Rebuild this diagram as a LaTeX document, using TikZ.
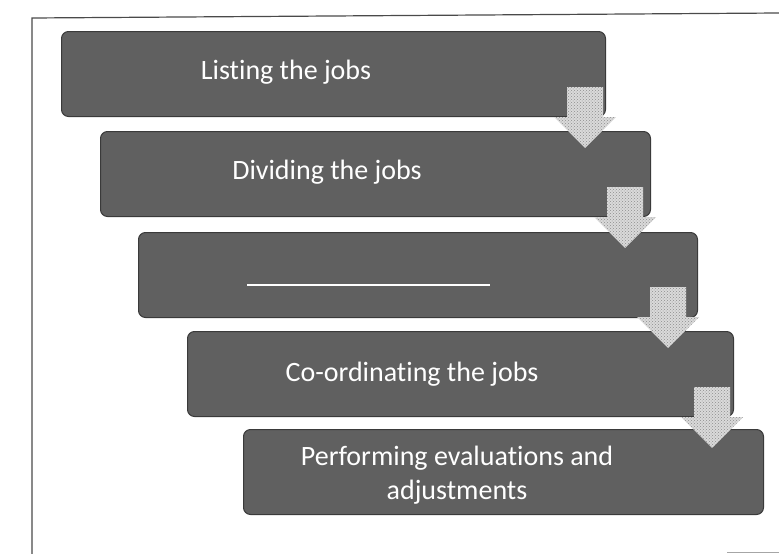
\documentclass[tikz,border=0pt]{standalone}
\usepackage{fontspec}
\setmainfont{Carlito}[Ligatures={NoCommon,NoContextual}]
\usetikzlibrary{patterns}
\definecolor{boxfill}{HTML}{606060}
\definecolor{boxline}{HTML}{3A3A3A}
\definecolor{arrowfill}{HTML}{DADADA}
\definecolor{framecol}{HTML}{4A4A4A}
\tikzset{
  stepbox/.style={draw=boxline, line width=1pt, fill=boxfill, rounded corners=7pt, anchor=north west, inner sep=0pt, minimum height=85pt},
  steptext/.style={text=white, font=\fontsize{28}{34}\selectfont, align=center, inner sep=0pt},
  downarrow/.style={fill=arrowfill, postaction={pattern=crosshatch dots, pattern color=gray!90}},
  framel/.style={draw=framecol, line width=1.2pt}
}
\begin{document}
\begin{tikzpicture}[x=1pt,y=-1pt]
\useasboundingbox (0,0) rectangle (779,554);
\fill[white] (0,0) rectangle (779,554);
% frame
\coordinate (fa) at (32,18);
\coordinate (fb) at (32,554);
\coordinate (fc) at (779,13);
\coordinate (fd) at (727,552);
\coordinate (fe) at (779,552);
\draw[framel] (fb) -- (fa) -- (fc);
\draw[draw=gray!70, line width=0.8pt] (fd) -- (fe);
% boxes
\node[stepbox, minimum width=544pt] (b1) at (61,31) {};
\node[stepbox, minimum width=550pt] (b2) at (100,131) {};
\node[stepbox, minimum width=559pt] (b3) at (138,232) {};
\node[stepbox, minimum width=546pt] (b4) at (187,331) {};
\node[stepbox, minimum width=520pt] (b5) at (243,429) {};
% texts
\node[steptext] (t1) at (286,72) {Listing the jobs};
\node[steptext] (t2) at (327,172) {Dividing the jobs};
\node[inner sep=0pt] (t3) at (368.5,285) {\textcolor{white}{\rule{243pt}{1.5pt}}};
\node[steptext] (t4) at (412,374) {Co-ordinating the jobs};
\node[steptext] (t5) at (457,475) {Performing evaluations and\\adjustments};
% arrows
\coordinate (a1) at (585,87);
\coordinate (a2) at (625,187);
\coordinate (a3) at (668,287);
\coordinate (a4) at (712,387);
\foreach \a in {a1,a2,a3,a4}{
  \path[downarrow] (\a) ++(-18,0) -- ++(36,0) -- ++(0,30) -- ++(13,0) -- ++(-31,31) -- ++(-31,-31) -- ++(13,0) -- cycle;
}
\end{tikzpicture}
\end{document}
